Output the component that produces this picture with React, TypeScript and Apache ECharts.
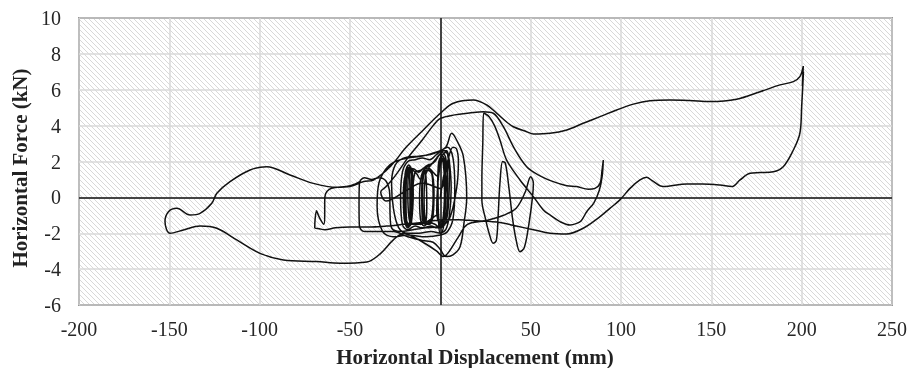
import React, { useEffect, useRef } from "react";
import * as echarts from "echarts";

const xTicks = { min: -200, max: 250, interval: 50 };
const yTicks = { min: -6, max: 10, interval: 2 };
const xTitle = "Horizontal Displacement (mm)";
const yTitle = "Horizontal Force (kN)";

const cyclesSmall: number[][] = [
  [0, 0], [1.5, 1.0], [3, 1.9], [2, 2.2], [0, 1.8], [-1.5, 0.6], [-2, -0.8], [-0.5, -1.4], [1.5, -1.2], [3, 0.2],
  [4, 1.6], [4.5, 2.3], [3, 2.5], [0.5, 2.2], [-2, 1.2], [-4, 1.4], [-6, 1.6], [-8, 1.3], [-9, 0], [-8.5, -1.2],
  [-7, -1.5], [-5, -1.2], [-4, 0], [-4.5, 1.2], [-6.5, 1.5], [-9, 1.4], [-11, 1.0], [-13, 1.3], [-15, 1.5], [-17, 1.7],
  [-19, 1.4], [-20, 0.2], [-19.5, -1.0], [-18, -1.5], [-16, -1.4], [-15.5, -0.2], [-16, 1.2], [-17.5, 1.6], [-19.5, 1.1],
  [-20, -0.4], [-19, -1.4], [-17, -1.6], [-15.5, -0.8], [-15.5, 0.8], [-17, 1.7], [-19, 1.5], [-20.5, 0.3], [-20, -1.2],
  [-18, -1.7], [-16, -1.3], [-15, 0.2], [-15.5, 1.4], [-17.5, 1.8], [-19.5, 1.3], [-19.8, -0.6], [-18.5, -1.6],
  [-16.5, -1.5], [-15.5, 0], [-14, 1.4], [-11, 1.5], [-7, 1.8], [-4, 1.9], [-1, 2.3], [2, 2.6], [4, 2.4], [5, 1.2],
  [4.5, -0.4], [3, -1.4], [0, -1.7], [-3, -1.5], [-6, -1.4], [-9, -1.6], [-11, -1.2], [-11.5, 0], [-10.5, 1.2],
  [-8, 1.6], [-5, 1.5], [-3.5, 0.3], [-4, -1], [-6, -1.5], [-9, -1.3], [-10, 0.2], [-9, 1.3], [-6, 1.7], [-2, 2.2],
  [1, 2.5], [3, 2.2], [4, 0.8], [3.5, -0.8], [1, -1.6], [-2, -1.7], [-5, -1.6], [-10, -1.7], [-14, -1.6], [-18, -1.8],
  [-21, -1.5], [-22, 0], [-21, 1.4], [-18, 2.0], [-14, 2.1], [-10, 2.2], [-6, 2.1], [-2, 2.4], [1, 2.6], [3.5, 2.6],
  [5, 2.0], [6, 0.5], [5, -1.0], [3, -1.8], [0, -2.0],
];

const cyclesDense: number[][] = [
  [-1, -1.2], [-1.5, 0.5], [-1, 1.8], [0.5, 2.3], [2, 1.5], [2.5, 0], [1.5, -1.3], [0, -1.6], [-1.2, -0.5],
  [-1.3, 1.2], [0, 2.2], [1.8, 2.0], [2.3, 0.3], [1.2, -1.4], [-0.5, -1.5], [-2, -1.0], [-5, -1.2], [-8, -1.4],
  [-12, -1.5], [-16, -1.5], [-17.5, -1.0], [-18, 0.3], [-17.5, 1.5], [-16.5, 1.7], [-16, 0.5], [-16.5, -1.2],
  [-18, -1.6], [-19, -0.5], [-18.8, 1.0], [-17.5, 1.6], [-16.8, 0], [-17.5, -1.5], [-19, -1.2], [-19.2, 0.5],
  [-18, 1.6], [-15, 1.6], [-12, 1.4], [-9.5, 1.6], [-8, 1.2], [-7.5, -0.5], [-8.5, -1.5], [-10, -1.2],
  [-10.3, 0.4], [-9, 1.5], [-6, 1.8], [-3, 2.0], [0, 2.4], [2, 2.2], [3, 0.5], [2, -1.5], [0, -2.0],
];

const cyclesMedium: number[][] = [
  [-5, -1.9], [-12, -2.0], [-18, -2.0], [-23, -1.7], [-26, -0.6], [-27, 0.8], [-25, 1.8], [-20, 2.2], [-12, 2.3],
  [-5, 2.4], [0, 2.6], [4, 2.8], [7, 2.2], [8, 0.5], [7, -1.2], [4, -1.9], [0, -2.1], [-8, -2.2], [-18, -2.1],
  [-26, -2.2], [-32, -1.9], [-35, -0.5], [-34, 0.8], [-30, 1.6], [-25, 2.0], [-18, 2.2], [-10, 2.3], [-3, 2.5],
  [3, 2.8], [6.3, 3.57], [9, 3.2], [12.7, 2.3], [14.6, 0], [13, -1.5], [10.9, -2.75], [7, -3.2], [3, -3.3],
  [0, -2.9], [-4, -2.5], [-10, -2.4], [-18, -2.2], [-26, -1.9], [-35, -1.9], [-42, -1.9], [-44.8, -1.6],
  [-45, -0.5], [-44.8, 0.8], [-42, 1.1], [-38, 1.0], [-34, 1.1], [-30, 0.9], [-28, 0.2], [-27.8, -1.0],
  [-27, -1.7], [-22, -1.9], [-15, -1.8], [-8, -1.7], [0, -1.6], [5, -1.2], [9, 0.5], [10, 2.0], [9, 2.7],
  [7, 2.8], [4, 2.0], [0, 0.5], [-10, 0.8], [-20, 0.3], [-30, -0.2], [-33, 0.3],
];

const excursion90: number[][] = [
  [-30, 0.6], [-25, 1.2], [-18, 2.2], [-10, 3.2], [-4, 4.0], [0, 4.4], [8, 4.6], [16, 4.7], [23.8, 4.78],
  [29.3, 4.69], [34.9, 3.94], [40.4, 2.83], [47.8, 1.71], [55.2, 1.2], [62.5, 0.88], [70, 0.65], [75.5, 0.6],
  [82, 0.45], [85.6, 0.5], [88.4, 0.78], [89.5, 1.5], [90.2, 2.08], [89.6, 1.2], [88, 0.4], [85, -0.3],
  [81, -0.8], [78, -1.3], [75.5, -1.45], [71.8, -1.54], [66.2, -1.35], [61, -1.0], [57, -0.7], [51.5, 0.04],
  [44.1, 0.97], [36.7, 2.08], [33, 3.2], [30, 4.0], [27, 4.5], [24, 4.7], [23.5, 3.0], [23, 1.0], [23, -0.14],
  [25, -1.2], [27, -2.0], [29.3, -2.56], [31, -2.4], [32, -1.0], [33, 0.8], [34.5, 2.0], [36, 1.9], [38, 0.5],
  [40, -1.2], [42, -2.4], [44.1, -3.03], [46.5, -2.8], [49, -1.5], [51, 0], [51.5, 0.8], [50, 1.15], [47, 0.3],
  [42, -0.6], [35, -1.0], [25, -1.3], [15, -1.5], [10, -2.2], [5, -3.0], [1.7, -3.3], [-2, -3.0], [-8, -2.6],
  [-15, -2.2], [-20, -2.0],
];

const excursionMinus150: number[][] = [
  [-26, -2.37], [-33, -3.12], [-40.7, -3.6], [-55.5, -3.67], [-68.4, -3.58], [-86.9, -3.49], [-99.8, -3.12],
  [-112.7, -2.37], [-123.7, -1.72], [-133, -1.59], [-142.2, -1.82], [-149.6, -2.0], [-152.4, -1.35],
  [-150.5, -0.8], [-145.9, -0.61], [-138.5, -0.98], [-133, -0.89], [-126.5, -0.33], [-123.7, 0.23],
  [-116.4, 0.88], [-105.3, 1.53], [-96.1, 1.71], [-83.2, 1.25], [-70.3, 0.78], [-57.3, 0.56], [-50, 0.6],
  [-42.4, 0.88], [-37, 0.97],
];

const excursion200: number[][] = [
  [-27.8, 1.71], [-18.6, 2.83], [-9.4, 3.76], [0, 4.69], [7.2, 5.25], [18.3, 5.43], [25.7, 5.15], [31.2, 4.69],
  [36.7, 4.2], [40.4, 3.94], [47.8, 3.66], [51.5, 3.53], [60.7, 3.57], [70, 3.76], [79.1, 4.13], [88.4, 4.5],
  [97.6, 4.87], [106.8, 5.2], [116, 5.39], [127.1, 5.43], [138, 5.4], [149.3, 5.34], [164, 5.47], [177, 5.89],
  [188, 6.27], [195.4, 6.45], [199, 6.73], [200.9, 7.32], [200.4, 6.2], [201, 7.0], [200, 5.06], [199, 3.57],
  [195.4, 2.64], [189.8, 1.71], [184.3, 1.43], [177, 1.38], [171.4, 1.34], [165.9, 0.97], [161.3, 0.6],
  [154.8, 0.69], [145, 0.75], [136.4, 0.75], [123.4, 0.6], [117, 0.95], [114.2, 1.12], [110.5, 0.97],
  [105, 0.5], [99.4, -0.14], [94, -0.6], [88.4, -1.07], [79.1, -1.72], [70, -2.04], [60.7, -2.0], [51.5, -1.8],
  [42, -1.6], [33, -1.4], [20, -1.3], [10, -1.25], [0, -1.26], [-10, -1.4], [-20, -1.5], [-30, -1.6],
  [-40, -1.65], [-50, -1.65], [-58, -1.7], [-64, -1.8],
];

const finalReturn: number[][] = [
  [-67, -1.75], [-69.5, -1.7], [-69.3, -1.2], [-68.5, -0.75], [-67.5, -1.0], [-66, -1.3], [-64.5, -1.5],
  [-64, -1.0], [-64, -0.2], [-63.5, 0.2], [-61.5, 0.45], [-58, 0.55], [-52, 0.6], [-47, 0.75], [-44, 0.9],
];

function makeHatch(): HTMLCanvasElement {
  const s = 5;
  const c = document.createElement("canvas");
  c.width = s;
  c.height = s;
  const ctx = c.getContext("2d")!;
  ctx.fillStyle = "#ffffff";
  ctx.fillRect(0, 0, s, s);
  ctx.strokeStyle = "#d8d8d8";
  ctx.lineWidth = 1;
  ctx.beginPath();
  ctx.moveTo(-1, -1);
  ctx.lineTo(s + 1, s + 1);
  ctx.moveTo(-1, s - 1);
  ctx.lineTo(1, s + 1);
  ctx.moveTo(s - 1, -1);
  ctx.lineTo(s + 1, 1);
  ctx.stroke();
  return c;
}

export default function App() {
  const ref = useRef<HTMLDivElement>(null);
  useEffect(() => {
    if (!ref.current) return;
    const chart = echarts.init(ref.current, null, { renderer: "svg" });
    const data = [
      ...cyclesSmall,
      ...cyclesDense,
      ...cyclesMedium,
      ...excursion90,
      ...excursionMinus150,
      ...excursion200,
      ...finalReturn,
    ];
    const hatch = makeHatch();
    const labelFont = {
      fontFamily: "Liberation Serif",
      fontSize: 20,
      color: "#262626",
    };
    chart.setOption({
      animation: false,
      grid: {
        left: 79,
        right: 16,
        top: 18,
        bottom: 63,
        show: true,
        backgroundColor: { image: hatch, repeat: "repeat" },
        borderColor: "#2a2a2a",
        borderWidth: 1.3,
        containLabel: false,
        outerBoundsMode: "none",
      },
      xAxis: {
        type: "value",
        min: xTicks.min,
        max: xTicks.max,
        interval: xTicks.interval,
        axisLine: { show: false },
        axisTick: { show: false },
        axisLabel: { ...labelFont, margin: 14 },
        splitLine: { show: true, lineStyle: { color: "#d9d9d9", width: 1.5 } },
      },
      yAxis: {
        type: "value",
        min: yTicks.min,
        max: yTicks.max,
        interval: yTicks.interval,
        axisLine: { show: false },
        axisTick: { show: false },
        axisLabel: { ...labelFont, margin: 18 },
        splitLine: { show: true, lineStyle: { color: "#d9d9d9", width: 1.5 } },
      },
      graphic: [
        {
          type: "text",
          x: 475,
          y: 357,
          style: {
            text: xTitle,
            textAlign: "center",
            textVerticalAlign: "middle",
            font: 'bold 21px "Liberation Serif"',
            fill: "#222222",
          },
        },
        {
          type: "text",
          x: 20,
          y: 168,
          rotation: Math.PI / 2,
          style: {
            text: yTitle,
            textAlign: "center",
            textVerticalAlign: "middle",
            font: 'bold 21px "Liberation Serif"',
            fill: "#222222",
          },
        },
      ],
      series: [
        {
          type: "line",
          data,
          showSymbol: false,
          symbol: "none",
          smooth: 0.35,
          lineStyle: { color: "#111111", width: 1.5 },
          z: 3,
          markLine: {
            silent: true,
            symbol: ["none", "none"],
            label: { show: false },
            lineStyle: { color: "#111111", width: 1.5, type: "solid" },
            data: [{ xAxis: 0 }, { yAxis: 0 }],
            z: 2,
          },
        },
      ],
    });
    return () => chart.dispose();
  }, []);
  return (
    <div
      ref={ref}
      style={{ position: "fixed", left: 0, top: 0, width: 908, height: 368 }}
    />
  );
}
